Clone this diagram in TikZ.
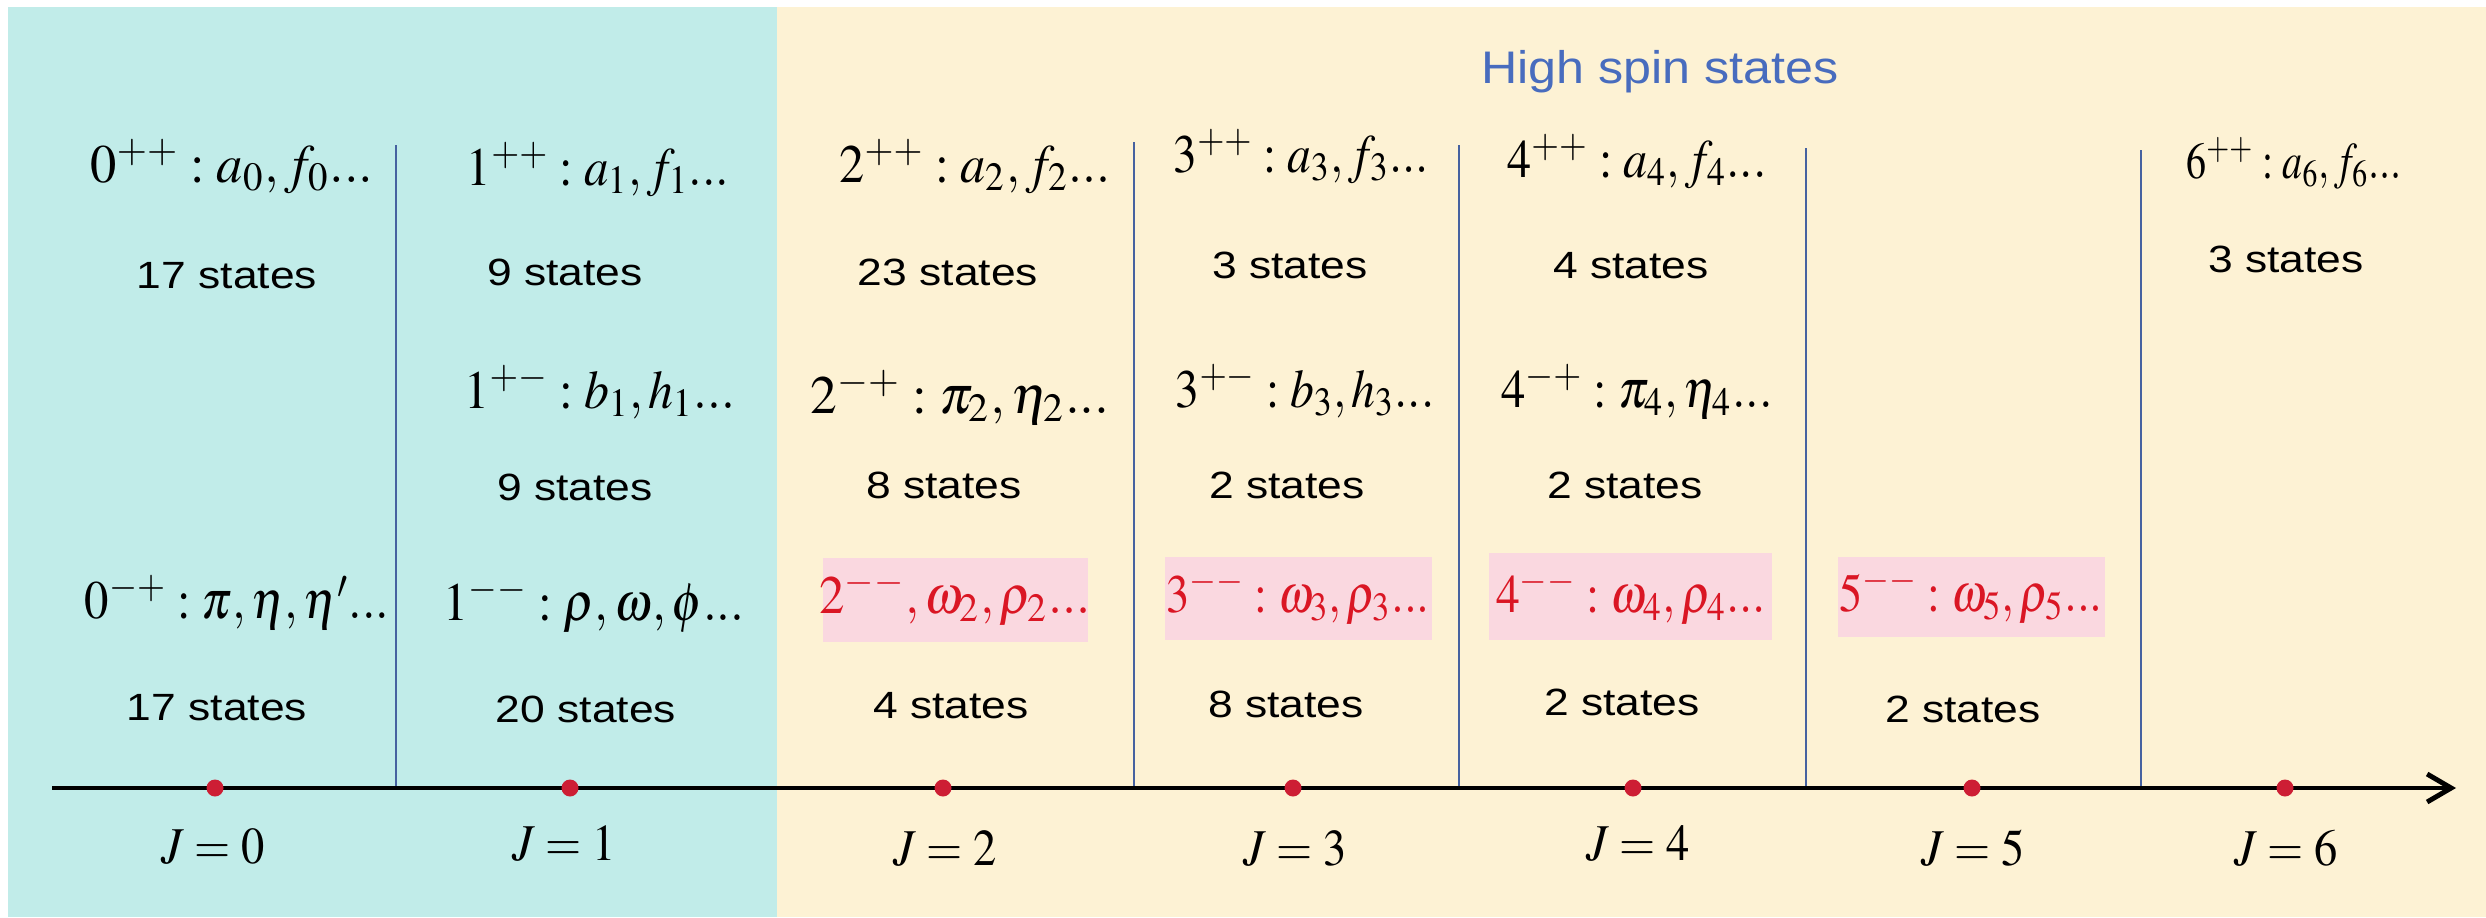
\documentclass[tikz,border=0pt]{standalone}
\usepackage{mathptmx}
\usepackage[no-math]{fontspec}
\setmainfont{Liberation Sans}
\usetikzlibrary{arrows.meta}

\definecolor{bgcyan}{RGB}{193,236,233}
\definecolor{bgcream}{RGB}{253,242,212}
\definecolor{sepblue}{RGB}{70,98,160}
\definecolor{hsblue}{RGB}{72,108,190}
\definecolor{boxpink}{RGB}{250,216,224}
\definecolor{jred}{RGB}{218,22,36}
\definecolor{dotred}{RGB}{205,30,52}

\newcommand{\wide}[1]{\scalebox{1.17}[1]{#1}}
\newcommand{\fx}[2]{\scalebox{#1}[1]{#2}}

\tikzset{
  stt/.style={anchor=base, inner sep=0pt, font=\fontsize{10.8}{13}\selectfont, text=black},
  fml/.style={anchor=base, inner sep=0pt, font=\fontsize{15.4}{18}\selectfont},
  rfml/.style={fml, text=jred},
  jlab/.style={anchor=base, inner sep=0pt, font=\fontsize{14.7}{17}\selectfont},
  sepline/.style={draw=sepblue, line width=0.75pt},
  pinkfill/.style={fill=boxpink},
  jdot/.style={circle, fill=dotred, inner sep=0pt, minimum size=1.7mm},
  axisline/.style={line width=1.4pt, -{Straight Barb[length=2.4mm,width=2.8mm,line width=1.4pt]}},
}

\begin{document}
\begin{tikzpicture}[x=0.1mm, y=-0.1mm]
\useasboundingbox (0,0) rectangle (2486,917);
\fill[white] (0,0) rectangle (2486,917);
\fill[bgcyan] (8,7) rectangle (777,917);
\fill[bgcream] (777,7) rectangle (2486,917);

% separators
\coordinate (s1t) at (396,145);  \coordinate (s1b) at (396,788);
\coordinate (s2t) at (1134,142); \coordinate (s2b) at (1134,788);
\coordinate (s3t) at (1459,145); \coordinate (s3b) at (1459,788);
\coordinate (s4t) at (1806,148); \coordinate (s4b) at (1806,788);
\coordinate (s5t) at (2141,150); \coordinate (s5b) at (2141,788);
\draw[sepline] (s1t) -- (s1b);
\draw[sepline] (s2t) -- (s2b);
\draw[sepline] (s3t) -- (s3b);
\draw[sepline] (s4t) -- (s4b);
\draw[sepline] (s5t) -- (s5b);

% axis
\coordinate (axL) at (52,788);
\coordinate (axR) at (2456,788);
\draw[axisline] (axL) -- (axR);

% dots
\node[jdot] (d0) at (215,788) {};
\node[jdot] (d1) at (570,788) {};
\node[jdot] (d2) at (943,788) {};
\node[jdot] (d3) at (1293,788) {};
\node[jdot] (d4) at (1633,788) {};
\node[jdot] (d5) at (1972,788) {};
\node[jdot] (d6) at (2285,788) {};

% J labels
\node[jlab] (j0) at (213,863) {\fx{0.9}{$J=0$}};
\node[jlab] (j1) at (564,860) {\fx{0.9}{$J=1$}};
\node[jlab] (j2) at (945,865) {\fx{0.9}{$J=2$}};
\node[jlab] (j3) at (1295,865) {\fx{0.9}{$J=3$}};
\node[jlab] (j4) at (1638,860) {\fx{0.9}{$J=4$}};
\node[jlab] (j5) at (1973,865) {\fx{0.9}{$J=5$}};
\node[jlab] (j6) at (2286,865) {\fx{0.9}{$J=6$}};

% title
\node[anchor=base, inner sep=0pt, font=\fontsize{13}{15}\selectfont, text=hsblue] (hs) at (1660,83) {\scalebox{1.1}[1]{High spin states}};

% row 1
\node[fml] (a0) at (232,182) {\fx{0.97}{$0^{++}:a_0,f_0...$}};
\node[fml] (a1) at (598,185) {\fx{0.9}{$1^{++}:a_1,f_1...$}};
\node[fml] (a2) at (975,182) {\fx{0.93}{$2^{++}:a_2,f_2...$}};
\node[fml] (a3) at (1301,172) {\fx{0.875}{$3^{++}:a_3,f_3...$}};
\node[fml] (a4) at (1637,177) {\fx{0.89}{$4^{++}:a_4,f_4...$}};
\node[fml] (a6) at (2294,178) {\scalebox{0.74}[0.95]{$6^{++}:a_6,f_6...$}};

\node[stt] (n0a) at (227,288) {\wide{17 states}};
\node[stt] (n1a) at (565,285) {\wide{9 states}};
\node[stt] (n2a) at (948,285) {\wide{23 states}};
\node[stt] (n3a) at (1290,278) {\wide{3 states}};
\node[stt] (n4a) at (1631,278) {\wide{4 states}};
\node[stt] (n6a) at (2286,272) {\wide{3 states}};

% row 2
\node[fml] (b1) at (600,408) {\fx{0.92}{$1^{+-}:b_1,h_1...$}};
\node[fml] (b2) at (960,413) {\fx{0.99}{$2^{-+}:\pi_2,\eta_2...$}};
\node[fml] (b3) at (1305,407) {\fx{0.88}{$3^{+-}:b_3,h_3...$}};
\node[fml] (b4) at (1637,407) {\fx{0.9}{$4^{-+}:\pi_4,\eta_4...$}};

\node[stt] (n1b) at (575,500) {\wide{9 states}};
\node[stt] (n2b) at (944,498) {\wide{8 states}};
\node[stt] (n3b) at (1287,498) {\wide{2 states}};
\node[stt] (n4b) at (1625,498) {\wide{2 states}};

% row 3: pink highlight boxes
\fill[pinkfill] (823,558) rectangle (1088,642);
\fill[pinkfill] (1165,557) rectangle (1432,640);
\fill[pinkfill] (1489,553) rectangle (1772,640);
\fill[pinkfill] (1838,557) rectangle (2105,637);

\node[fml] (c0) at (237,618) {\fx{0.9}{$0^{-+}:\pi,\eta,\eta'...$}};
\node[fml] (c1) at (594,620) {\fx{0.92}{$1^{--}:\rho,\omega,\phi...$}};
\node[rfml] (c2) at (955,613) {\fx{0.94}{$2^{--},\omega_2,\rho_2...$}};
\node[rfml] (c3) at (1298,612) {\fx{0.86}{$3^{--}:\omega_3,\rho_3...$}};
\node[rfml] (c4) at (1631,612) {\fx{0.88}{$4^{--}:\omega_4,\rho_4...$}};
\node[rfml] (c5) at (1971,611) {\fx{0.86}{$5^{--}:\omega_5,\rho_5...$}};

\node[stt] (n0c) at (217,720) {\wide{17 states}};
\node[stt] (n1c) at (586,722) {\wide{20 states}};
\node[stt] (n2c) at (951,718) {\wide{4 states}};
\node[stt] (n3c) at (1286,717) {\wide{8 states}};
\node[stt] (n4c) at (1622,715) {\wide{2 states}};
\node[stt] (n5c) at (1963,722) {\wide{2 states}};
\end{tikzpicture}
\end{document}
